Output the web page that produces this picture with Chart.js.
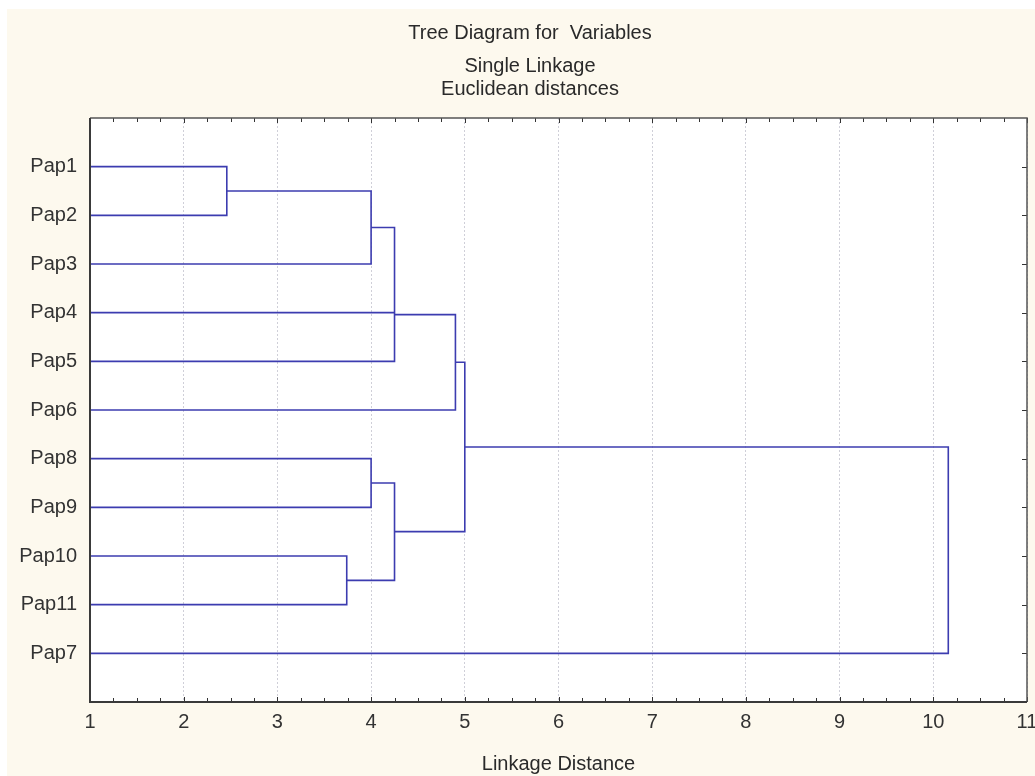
<!DOCTYPE html>
<html>
<head>
<meta charset="utf-8">
<script src="https://cdn.jsdelivr.net/npm/chart.js@4"></script>
<style>
  html, body { margin: 0; padding: 0; background: #ffffff; overflow: hidden; }
  #wrap { position: absolute; left: 7px; top: 9px; width: 1038px; height: 767px; background: #fdf9ee; }
</style>
</head>
<body>
<div id="wrap"><canvas id="grafico"></canvas></div>
<script>
// Hojas del dendrograma, de arriba abajo
const leaves = ["Pap1", "Pap2", "Pap3", "Pap4", "Pap5", "Pap6", "Pap8", "Pap9", "Pap10", "Pap11", "Pap7"];
const xTicks = [1, 2, 3, 4, 5, 6, 7, 8, 9, 10, 11];

// Uniones: distancia de enlace y las dos ramas (fila y distancia de la que salen)
const linkDist  = [2.46, 4.0,  4.25, 4.25, 4.9,  4.0, 3.74, 4.25, 5.0,  10.16];
const linkRowA  = [1,    1.5,  2.25, 4,    4.04, 7,   9,    7.5,  5.02, 6.76];
const linkFromA = [1,    2.46, 4.0,  1,    4.25, 1,   1,    4.0,  4.9,  5.0];
const linkRowB  = [2,    3,    5,    4,    6,    8,   10,   9.5,  8.5,  11];
const linkFromB = [1,    1,    1,    4.25, 1,    1,   1,    3.74, 4.25, 1];

const lineColor = "#3c3cb0";
const fontFam = "'Liberation Sans', Arial, sans-serif";

const datasets = linkDist.map((h, i) => ({
    data: [
        { x: linkFromA[i], y: linkRowA[i] },
        { x: h, y: linkRowA[i] },
        { x: h, y: linkRowB[i] },
        { x: linkFromB[i], y: linkRowB[i] }
    ],
    showLine: true,
    borderColor: lineColor,
    borderWidth: 1.6,
    pointRadius: 0,
    tension: 0,
    borderJoinStyle: "miter"
}));

// marco, fondo blanco y marcas hacia dentro
const marco = {
    id: "marco",
    beforeDraw(chart) {
        const a = chart.chartArea, ctx = chart.ctx;
        ctx.save();
        ctx.fillStyle = "#ffffff";
        ctx.fillRect(a.left, a.top, a.right - a.left, a.bottom - a.top);
        ctx.restore();
    },
    afterDraw(chart) {
        const a = chart.chartArea, ctx = chart.ctx;
        const sx = chart.scales.x, sy = chart.scales.y;
        ctx.save();
        ctx.strokeStyle = "#333333";
        ctx.lineWidth = 1;
        // marcas eje x (arriba y abajo), cada 0.25
        for (let v = 1; v <= 11.001; v += 0.25) {
            const px = Math.round(sx.getPixelForValue(v)) + 0.5;
            const len = Math.abs(v - Math.round(v)) < 0.01 ? 5 : 4;
            ctx.beginPath();
            ctx.moveTo(px, a.bottom); ctx.lineTo(px, a.bottom - len);
            ctx.moveTo(px, a.top); ctx.lineTo(px, a.top + len);
            ctx.stroke();
        }
        // marcas eje y a la derecha
        leaves.forEach((l, i) => {
            const py = Math.round(sy.getPixelForValue(i + 1)) + 0.5;
            ctx.beginPath();
            ctx.moveTo(a.right, py); ctx.lineTo(a.right - 5, py);
            ctx.stroke();
        });
        // marco
        ctx.strokeStyle = "#555555";
        ctx.lineWidth = 1.5;
        ctx.beginPath();
        ctx.moveTo(a.left, a.top); ctx.lineTo(a.right, a.top); ctx.lineTo(a.right, a.bottom);
        ctx.stroke();
        ctx.strokeStyle = "#3a3a3a";
        ctx.lineWidth = 2;
        ctx.beginPath();
        ctx.moveTo(a.left, a.top); ctx.lineTo(a.left, a.bottom); ctx.lineTo(a.right, a.bottom);
        ctx.stroke();
        ctx.restore();
    }
};

new Chart(document.getElementById("grafico"), {
    type: "scatter",
    data: { datasets: datasets },
    plugins: [marco],
    options: {
        responsive: true,
        maintainAspectRatio: false,
        animation: false,
        layout: { padding: { left: 8, right: 0, top: 0, bottom: 0 } },
        plugins: {
            legend: { display: false },
            tooltip: { enabled: false },
            title: {
                display: true,
                text: "Tree Diagram for  Variables",
                color: "#2a2a2a",
                font: { family: fontFam, size: 20, weight: "normal", lineHeight: 1.2 },
                padding: { top: 12, bottom: 10 }
            },
            subtitle: {
                display: true,
                text: ["Single Linkage", "Euclidean distances"],
                color: "#2a2a2a",
                font: { family: fontFam, size: 20, weight: "normal", lineHeight: 1.15 },
                padding: { top: 0, bottom: 17 }
            }
        },
        scales: {
            x: {
                type: "linear",
                position: "bottom",
                min: 1,
                max: 11,
                afterBuildTicks: s => { s.ticks = xTicks.map(v => ({ value: v })); },
                ticks: {
                    color: "#333333",
                    padding: 8,
                    font: { family: fontFam, size: 20 },
                    maxRotation: 0
                },
                grid: {
                    color: "#cfcfd8",
                    lineWidth: 1,
                    drawTicks: false
                },
                border: { display: false, dash: [2, 2] },
                title: {
                    display: true,
                    text: "Linkage Distance",
                    color: "#2a2a2a",
                    font: { family: fontFam, size: 20, lineHeight: 1.2 },
                    padding: { top: 0, bottom: 0 }
                },
                afterFit: s => { s.height = 74; s.paddingLeft = 0; s.paddingRight = 0; }
            },
            y: {
                type: "linear",
                min: 0,
                max: 12,
                reverse: true,
                ticks: {
                    stepSize: 1,
                    autoSkip: false,
                    color: "#333333",
                    padding: 13,
                    font: { family: fontFam, size: 20 },
                    callback: v => leaves[v - 1] || ""
                },
                grid: { display: false, drawTicks: false },
                border: { display: false },
                afterFit: s => { s.width = 75; s.paddingTop = 0; s.paddingBottom = 0; }
            },
            // eje vacío a la derecha, sólo reserva el margen
            y2: {
                type: "linear",
                position: "right",
                min: 0,
                max: 12,
                ticks: { display: false },
                grid: { display: false, drawTicks: false },
                border: { display: false },
                afterFit: s => { s.width = 18; s.paddingTop = 0; s.paddingBottom = 0; }
            }
        }
    }
});
</script>
</body>
</html>
